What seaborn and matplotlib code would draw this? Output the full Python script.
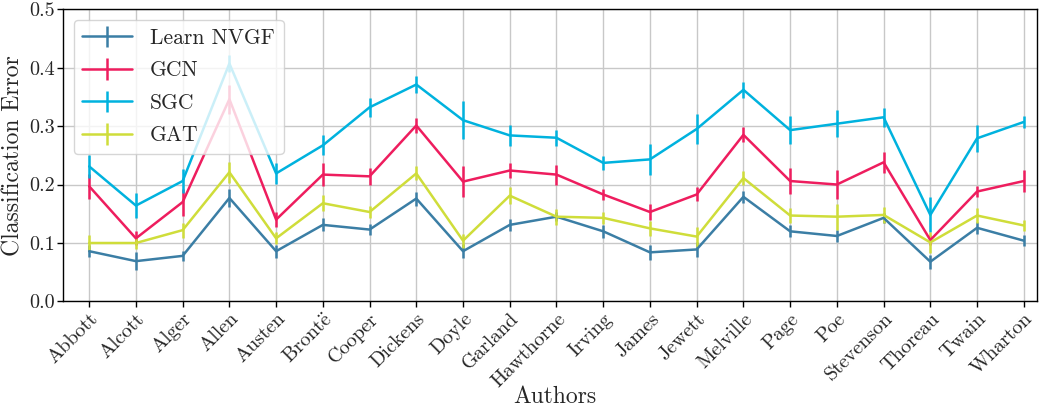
import numpy as np
import matplotlib
matplotlib.use('Agg')
import matplotlib.pyplot as plt
import seaborn as sns

authors = ["Abbott", "Alcott", "Alger", "Allen", "Austen", r"Bront$\ddot{\rm e}$", "Cooper",
           "Dickens", "Doyle", "Garland", "Hawthorne", "Irving", "James",
           "Jewett", "Melville", "Page", "Poe", "Stevenson", "Thoreau",
           "Twain", "Wharton"]

nvgf     = [0.086, 0.069, 0.078, 0.177, 0.086, 0.131, 0.123, 0.176, 0.086, 0.131, 0.145,
            0.120, 0.084, 0.089, 0.179, 0.120, 0.112, 0.143, 0.068, 0.126, 0.104]
nvgf_err = [0.010, 0.016, 0.008, 0.016, 0.011, 0.011, 0.009, 0.012, 0.012, 0.010, 0.008,
            0.011, 0.013, 0.013, 0.010, 0.010, 0.011, 0.008, 0.012, 0.010, 0.009]

gcn      = [0.197, 0.108, 0.170, 0.346, 0.140, 0.217, 0.214, 0.301, 0.205, 0.224, 0.217,
            0.183, 0.153, 0.183, 0.285, 0.206, 0.200, 0.238, 0.105, 0.188, 0.206]
gcn_err  = [0.021, 0.012, 0.023, 0.025, 0.013, 0.019, 0.014, 0.013, 0.027, 0.012, 0.017,
            0.010, 0.013, 0.012, 0.013, 0.023, 0.024, 0.018, 0.008, 0.010, 0.019]

sgc      = [0.231, 0.164, 0.206, 0.407, 0.219, 0.267, 0.332, 0.371, 0.310, 0.284, 0.280,
            0.237, 0.243, 0.295, 0.362, 0.293, 0.304, 0.315, 0.148, 0.279, 0.307]
sgc_err  = [0.020, 0.022, 0.020, 0.015, 0.018, 0.017, 0.016, 0.014, 0.033, 0.018, 0.014,
            0.012, 0.026, 0.025, 0.014, 0.024, 0.023, 0.016, 0.030, 0.023, 0.011]

gat      = [0.100, 0.100, 0.122, 0.221, 0.108, 0.168, 0.153, 0.219, 0.104, 0.181, 0.145,
            0.143, 0.125, 0.111, 0.211, 0.147, 0.145, 0.148, 0.101, 0.147, 0.130]
gat_err  = [0.013, 0.010, 0.013, 0.018, 0.010, 0.014, 0.010, 0.012, 0.012, 0.014, 0.014,
            0.010, 0.013, 0.017, 0.012, 0.013, 0.022, 0.013, 0.018, 0.013, 0.010]

models = ["Learn NVGF", "GCN", "SGC", "GAT"]
colors = ["#3b7ea5", "#ee1d5e", "#00b2de", "#cfdd3a"]

sns.set_style("whitegrid")
plt.rcParams['font.family'] = ['cmr10', 'DejaVu Serif']
plt.rcParams['mathtext.fontset'] = 'cm'
plt.rcParams['axes.formatter.use_mathtext'] = True

fig, ax = plt.subplots(figsize=(10.4, 4.13), dpi=100)
x = np.arange(len(authors))
for name, vals, errs, c in zip(models, [nvgf, gcn, sgc, gat],
                               [nvgf_err, gcn_err, sgc_err, gat_err], colors):
    ax.errorbar(x, vals, yerr=errs, color=c, lw=1.8, elinewidth=1.8,
                label=name)

ax.set_ylim(0, 0.5)
ax.set_xlim(-0.56, len(authors) - 0.72)
ax.set_xticks(x)
ax.set_xticklabels(authors, rotation=45, ha='right', rotation_mode='anchor',
                   fontsize=14.5)
ax.set_yticks([0.0, 0.1, 0.2, 0.3, 0.4, 0.5])
ax.set_yticklabels(["0.0", "0.1", "0.2", "0.3", "0.4", "0.5"], fontsize=14.5)
ax.tick_params(axis='both', length=4, width=1, color='black', pad=2,
               bottom=True, left=True)
ax.set_xlabel("Authors", fontsize=17)
ax.xaxis.set_label_coords(0.505, -0.29)
ax.set_ylabel("Classification Error", fontsize=17, labelpad=3)
ax.grid(True, color='#c8c8c8', lw=1)
for s in ax.spines.values():
    s.set_color('black')
    s.set_linewidth(1)
ax.legend(loc='upper left', fontsize=15.5, frameon=True, framealpha=0.8,
          handlelength=2.3, handletextpad=0.85, labelspacing=0.6,
          borderaxespad=0.5)

plt.subplots_adjust(left=0.0606, right=0.997, top=0.978, bottom=0.27)
fig.savefig("out.png", dpi=100)
